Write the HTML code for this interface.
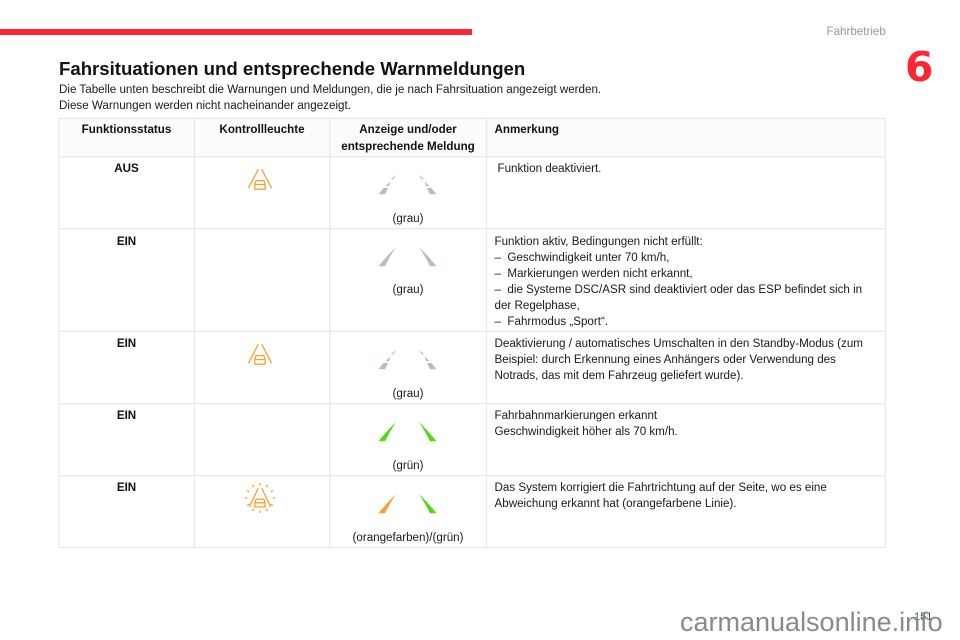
<!DOCTYPE html>
<html lang="de">
<head>
<meta charset="utf-8">
<title>Fahrsituationen und entsprechende Warnmeldungen</title>
<style>
html,body{margin:0;padding:0;background:#fff}
#page{position:relative;width:960px;height:640px;overflow:hidden;background:#fff;font-family:"Liberation Sans",Arial,sans-serif;color:#1a1a1a}
#page>div,#page>svg{position:absolute}
.t{white-space:nowrap;font-size:11.62px;line-height:16px;height:16px;margin-top:1px}
.c{text-align:center;transform:translateX(-50%)}
.b{font-weight:bold;color:#111}
</style>
</head>
<body>
<div id="page">
<div style="left:0;top:29px;width:472px;height:6px;background:#fe2635"></div>
<div class="t" style="left:826.5px;top:23px;color:#8c9c9c;font-size:11.6px">Fahrbetrieb</div>
<div style="left:905px;top:40px;font:bold 41px/54px 'DejaVu Sans',sans-serif;color:#fe2635">6</div>
<div style="left:59px;top:57px;white-space:nowrap;font-weight:bold;font-size:18.6px;line-height:24px;color:#111">Fahrsituationen und entsprechende Warnmeldungen</div>
<div class="t" style="left:59px;top:81px">Die Tabelle unten beschreibt die Warnungen und Meldungen, die je nach Fahrsituation angezeigt werden.</div>
<div class="t" style="left:59px;top:97px">Diese Warnungen werden nicht nacheinander angezeigt.</div>

<div style="left:59px;top:118px;width:826px;height:39px;background:#fcfcfc"></div>
<svg style="left:0;top:0" width="960" height="640" stroke="#e5ebeb" stroke-width="1.3">
<line x1="58.5" x2="885.5" y1="118.3" y2="118.3"/>
<line x1="58.5" x2="885.5" y1="156.7" y2="156.7"/>
<line x1="58.5" x2="885.5" y1="228.7" y2="228.7"/>
<line x1="58.5" x2="885.5" y1="331.3" y2="331.3"/>
<line x1="58.5" x2="885.5" y1="403.7" y2="403.7"/>
<line x1="58.5" x2="885.5" y1="475.7" y2="475.7"/>
<line x1="58.5" x2="885.5" y1="547.5" y2="547.5"/>
<line y1="118" y2="548" x1="59" x2="59"/>
<line y1="118" y2="548" x1="194.5" x2="194.5"/>
<line y1="118" y2="548" x1="329.7" x2="329.7"/>
<line y1="118" y2="548" x1="486.5" x2="486.5"/>
<line y1="118" y2="548" x1="885.3" x2="885.3"/>
</svg>

<div class="t b c" style="left:126.5px;top:121px">Funktionsstatus</div>
<div class="t b c" style="left:262px;top:121px">Kontrollleuchte</div>
<div class="t b c" style="left:408px;top:121px">Anzeige und/oder</div>
<div class="t b c" style="left:408px;top:138px">entsprechende Meldung</div>
<div class="t b" style="left:494.5px;top:121px">Anmerkung</div>

<div class="t b c" style="left:126.5px;top:160px">AUS</div>
<div class="t b c" style="left:126.5px;top:233px">EIN</div>
<div class="t b c" style="left:126.5px;top:335px">EIN</div>
<div class="t b c" style="left:126.5px;top:407px">EIN</div>
<div class="t b c" style="left:126.5px;top:479px">EIN</div>

<svg style="left:240px;top:160px" width="40" height="40" viewBox="0 0 40 40" fill="none" stroke="#f9a030" stroke-width="1.3">
<path d="M18.3 9.3 8.3 28.3M21.7 9.3 31.7 28.3"/><path d="M14.8 24.5 16 20.6H24L25.2 24.5V29.2H14.8ZM14.8 24.5H25.2" stroke-linejoin="round"/>
</svg>
<svg style="left:240px;top:335px" width="40" height="40" viewBox="0 0 40 40" fill="none" stroke="#f9a030" stroke-width="1.3">
<path d="M18.3 9.3 8.3 28.3M21.7 9.3 31.7 28.3"/><path d="M14.8 24.5 16 20.6H24L25.2 24.5V29.2H14.8ZM14.8 24.5H25.2" stroke-linejoin="round"/>
</svg>
<svg style="left:240px;top:478px" width="40" height="40" viewBox="0 0 40 40" fill="none" stroke="#f9a030" stroke-width="1.3">
<path d="M18.3 10.3 9.3 28.8M21.7 10.3 30.7 28.8"/><path d="M14.8 24.8 16 21.2H24L25.2 24.8V29H14.8ZM14.8 24.8H25.2" stroke-linejoin="round"/>
<path d="M20 5V7.5M20 32.5V35M5 20H7.5M32.5 20H35M12.5 7 13.8 9.2M27.5 7 26.2 9.2M7 12.5 9.2 13.8M33 12.5 30.8 13.8M7 27.5 9.2 26.2M33 27.5 30.8 26.2M12.5 33 13.8 30.8M27.5 33 26.2 30.8"/>
</svg>

<svg style="left:370px;top:170px" width="76" height="30" viewBox="0 0 76 30" fill="#b0c1bf">
<path d="M26 5 21 9.3H23.5ZM20.5 11.5 15.5 16H19ZM13.5 18 8.5 24.3H15L18 18Z"/>
<path d="M49 5 54 9.3H51.5ZM54.5 11.5 59.5 16H56ZM61.5 18 66.5 24.3H60L57 18Z"/>
</svg>
<svg style="left:370px;top:242px" width="76" height="30" viewBox="0 0 76 30" fill="#b0c1bf">
<path d="M26 5Q15 16 8.5 24.3H15Q20 14 26 5Z"/><path d="M49 5Q60 16 66.5 24.3H60Q55 14 49 5Z"/>
</svg>
<svg style="left:370px;top:344.5px" width="76" height="30" viewBox="0 0 76 30" fill="#b0c1bf">
<path d="M26 5 21 9.3H23.5ZM20.5 11.5 15.5 16H19ZM13.5 18 8.5 24.3H15L18 18Z"/>
<path d="M49 5 54 9.3H51.5ZM54.5 11.5 59.5 16H56ZM61.5 18 66.5 24.3H60L57 18Z"/>
</svg>
<svg style="left:370px;top:417px" width="76" height="30" viewBox="0 0 76 30">
<path d="M26 5Q15 16 8.5 24.3H15Q20 14 26 5Z" fill="#4fd90f"/><path d="M49 5Q60 16 66.5 24.3H60Q55 14 49 5Z" fill="#4fd90f"/>
</svg>
<svg style="left:370px;top:489px" width="76" height="30" viewBox="0 0 76 30">
<path d="M26 5Q15 16 8.5 24.3H15Q20 14 26 5Z" fill="#fa9f28"/><path d="M49 5Q60 16 66.5 24.3H60Q55 14 49 5Z" fill="#4fd90f"/>
</svg>

<div class="t c" style="left:408px;top:210px">(grau)</div>
<div class="t c" style="left:408px;top:281px">(grau)</div>
<div class="t c" style="left:408px;top:385px">(grau)</div>
<div class="t c" style="left:408px;top:457px">(grün)</div>
<div class="t c" style="left:408px;top:529px">(orangefarben)/(grün)</div>

<div class="t" style="left:497.5px;top:160px">Funktion deaktiviert.</div>
<div class="t" style="left:494.5px;top:233px">Funktion aktiv, Bedingungen nicht erfüllt:</div>
<div class="t" style="left:494.5px;top:249px">–&nbsp; Geschwindigkeit unter 70 km/h,</div>
<div class="t" style="left:494.5px;top:265px">–&nbsp; Markierungen werden nicht erkannt,</div>
<div class="t" style="left:494.5px;top:281px">–&nbsp; die Systeme DSC/ASR sind deaktiviert oder das ESP befindet sich in</div>
<div class="t" style="left:494.5px;top:297px">der Regelphase,</div>
<div class="t" style="left:494.5px;top:313px">–&nbsp; Fahrmodus „Sport“.</div>
<div class="t" style="left:494.5px;top:335px">Deaktivierung / automatisches Umschalten in den Standby-Modus (zum</div>
<div class="t" style="left:494.5px;top:351px">Beispiel: durch Erkennung eines Anhängers oder Verwendung des</div>
<div class="t" style="left:494.5px;top:367px">Notrads, das mit dem Fahrzeug geliefert wurde).</div>
<div class="t" style="left:494.5px;top:407px">Fahrbahnmarkierungen erkannt</div>
<div class="t" style="left:494.5px;top:423px">Geschwindigkeit höher als 70 km/h.</div>
<div class="t" style="left:494.5px;top:479px">Das System korrigiert die Fahrtrichtung auf der Seite, wo es eine</div>
<div class="t" style="left:494.5px;top:495px">Abweichung erkannt hat (orangefarbene Linie).</div>

<div class="t" style="left:914px;top:608px;color:#2f6060;font-size:11px">151</div>
<div style="left:680px;top:607px;white-space:nowrap;font-size:27px;line-height:30px;color:#8a8a8a">carmanualsonline.info</div>
</div>
</body>
</html>
